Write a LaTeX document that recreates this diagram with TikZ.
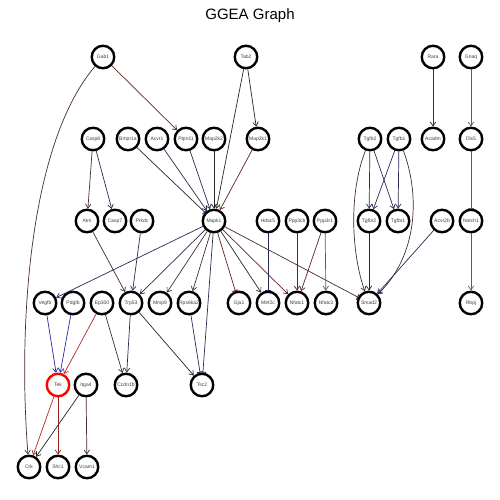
\documentclass[tikz,border=0pt]{standalone}
\usepackage{fontspec}
\setmainfont{Liberation Sans}
\usetikzlibrary{arrows.meta}
\definecolor{ekblack}{HTML}{262626}
\definecolor{ekdred}{HTML}{602424}
\definecolor{ekbrown}{HTML}{4A2C2C}
\definecolor{eknavy}{HTML}{2A2A55}
\definecolor{ekblue}{HTML}{2828A0}
\definecolor{ekred}{HTML}{B02828}
\definecolor{ekgrey}{HTML}{5C5C6C}
\tikzset{
  gn/.style={circle, draw=black, line width=2.4pt, minimum size=22.5pt, inner sep=0pt, outer sep=1.2pt, fill=white, font=\fontsize{5}{5}\selectfont, text=black!75},
  tekn/.style={gn, draw=red},
  act/.style={line width=0.7pt, -{Straight Barb[length=4pt,width=5.5pt,line width=0.7pt]}},
  inh/.style={line width=0.7pt, -{Bar[width=6pt,line width=0.9pt]}}
}
\begin{document}
\begin{tikzpicture}[x=1pt,y=-1pt]
\fill[white] (0,0) rectangle (500,500);
\useasboundingbox (0,0) rectangle (500,500);
\node[font=\fontsize{15}{15}\selectfont] (title) at (250,16) {GGEA Graph};
% row 1
\node[gn] (Gab1) at (103,57) {Gab1};
\node[gn] (Tab2) at (246,57) {Tab2};
\node[gn] (Rara) at (433,57) {Rara};
\node[gn] (Gnaq) at (471,57) {Gnaq};
% row 2
\node[gn] (Casp8) at (93,139) {Casp8};
\node[gn] (Bmpr1a) at (128,139) {Bmpr1a};
\node[gn] (Acvr1) at (157,139) {Acvr1};
\node[gn] (Ptpn11) at (186,139) {Ptpn11};
\node[gn] (Map2k2) at (214,139) {Map2k2};
\node[gn] (Map2k1) at (258,139) {Map2k1};
\node[gn] (Tgfb2) at (370,139) {Tgfb2};
\node[gn] (Tgfb1) at (399,139) {Tgfb1};
\node[gn] (Acadm) at (433,139) {Acadm};
\node[gn] (Dlx5) at (471,139) {Dlx5};
% row 3
\node[gn] (Atm) at (87,221) {Atm};
\node[gn] (Casp7) at (115,221) {Casp7};
\node[gn] (Prkdc) at (142,221) {Prkdc};
\node[gn] (Mapk1) at (214,221) {Mapk1};
\node[gn] (Hdac5) at (268,221) {Hdac5};
\node[gn] (Ppp3cb) at (297,221) {Ppp3cb};
\node[gn] (Ppp3r1) at (325,221) {Ppp3r1};
\node[gn] (Tgfbr2) at (369,221) {Tgfbr2};
\node[gn] (Tgfbr1) at (398,221) {Tgfbr1};
\node[gn] (Acvr2b) at (442,221) {Acvr2b};
\node[gn] (Notch1) at (471,221) {Notch1};
% row 4
\node[gn] (Vegfb) at (45,303) {Vegfb};
\node[gn] (Pdgfb) at (73,303) {Pdgfb};
\node[gn] (Ep300) at (102,303) {Ep300};
\node[gn] (Trp53) at (131,303) {Trp53};
\node[gn] (Mmp9) at (160,303) {Mmp9};
\node[gn] (Rps6ka2) at (189,303) {Rps6ka2};
\node[gn] (Gja1) at (239,303) {Gja1};
\node[gn] (Mef2c) at (268,303) {Mef2c};
\node[gn] (Nfatc1) at (297,303) {Nfatc1};
\node[gn] (Nfatc3) at (326,303) {Nfatc3};
\node[gn] (Smad2) at (369,303) {Smad2};
\node[gn] (Rbpj) at (471,303) {Rbpj};
% row 5
\node[tekn] (Tek) at (58,385) {Tek};
\node[gn] (Itga4) at (86,385) {Itga4};
\node[gn] (Ccdn1b) at (126,385) {Ccdn1b};
\node[gn] (Tsc2) at (202,385) {Tsc2};
% row 6
\node[gn] (Crk) at (29,467) {Crk};
\node[gn] (Shc1) at (58,467) {Shc1};
\node[gn] (Vcam1) at (87,467) {Vcam1};
% edges
\draw[act, ekdred] (Gab1) -- (Ptpn11);
\draw[act, ekbrown] (Gab1) .. controls (28,145) and (18,330) .. (Crk);
\draw[act, ekblack] (Tab2) -- (Map2k1);
\draw[act, ekblack] (Tab2) -- (Mapk1);
\draw[act, eknavy] (Rara) -- (Acadm);
\draw[act, ekgrey] (Gnaq) -- (Dlx5);
\draw[inh, ekgrey] (Dlx5) -- (Notch1);
\draw[act, ekgrey] (Notch1) -- (Rbpj);
\draw[act, ekbrown] (Casp8) -- (Atm);
\draw[act, eknavy] (Casp8) -- (Casp7);
\draw[inh, ekblack] (Bmpr1a) -- (Mapk1);
\draw[act, eknavy] (Acvr1) -- (Mapk1);
\draw[act, eknavy] (Ptpn11) -- (Mapk1);
\draw[act, ekblack] (Map2k2) -- (Mapk1);
\draw[act, ekdred] (Map2k1) -- (Mapk1);
\draw[act, ekbrown] (Atm) -- (Trp53);
\draw[act, eknavy] (Prkdc) -- (Trp53);
\draw[act, eknavy] (Mapk1) -- (Vegfb);
\draw[act, eknavy] (Mapk1) -- (Trp53);
\draw[act, ekbrown] (Mapk1) -- (Mmp9);
\draw[act, ekbrown] (Mapk1) -- (Rps6ka2);
\draw[inh, eknavy] (Mapk1) -- (Tsc2);
\draw[inh, ekdred] (Mapk1) -- (Gja1);
\draw[act, ekblack] (Mapk1) -- (Mef2c);
\draw[act, ekdred] (Mapk1) -- (Nfatc1);
\draw[inh, ekbrown] (Mapk1) -- (Smad2);
\draw[inh, eknavy] (Hdac5) -- (Mef2c);
\draw[act, ekbrown] (Ppp3cb) -- (Nfatc1);
\draw[act, ekdred] (Ppp3r1) -- (Nfatc1);
\draw[act, ekgrey] (Ppp3r1) -- (Nfatc3);
\draw[act, eknavy] (Tgfb2) -- (Tgfbr2);
\draw[act, eknavy] (Tgfb2) -- (Tgfbr1);
\draw[act, eknavy] (Tgfb1) -- (Tgfbr2);
\draw[act, eknavy] (Tgfb1) -- (Tgfbr1);
\draw[act, ekbrown] (Tgfb2) .. controls (348,195) and (352,255) .. (Smad2);
\draw[act, ekbrown] (Tgfb1) .. controls (420,195) and (418,255) .. (Smad2);
\draw[act, ekblack] (Tgfbr2) -- (Smad2);
\draw[act, eknavy] (Acvr2b) -- (Smad2);
\draw[act, ekblue] (Vegfb) -- (Tek);
\draw[act, ekblue] (Pdgfb) -- (Tek);
\draw[act, ekred] (Ep300) -- (Tek);
\draw[act, ekbrown] (Ep300) -- (Ccdn1b);
\draw[act, eknavy] (Trp53) -- (Ccdn1b);
\draw[act, ekblack] (Trp53) -- (Tsc2);
\draw[inh, eknavy] (Rps6ka2) -- (Tsc2);
\draw[act, ekred] (Tek) -- (Crk);
\draw[act, ekred!85!black] (Tek) -- (Shc1);
\draw[act, ekblack] (Itga4) -- (Crk);
\draw[act, ekbrown] (Itga4) -- (Vcam1);
\end{tikzpicture}
\end{document}
